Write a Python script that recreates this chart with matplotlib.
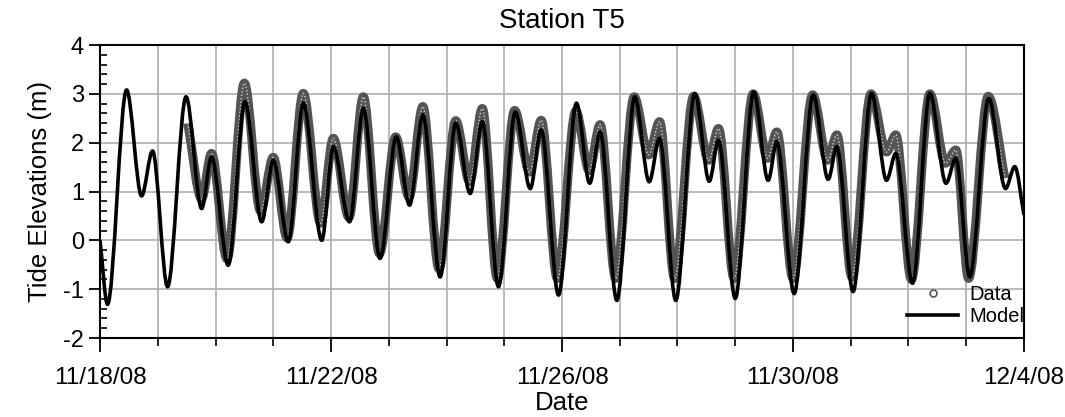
import matplotlib
matplotlib.use('Agg')
import matplotlib.pyplot as plt
from matplotlib.path import Path
from matplotlib.patches import PathPatch
from matplotlib.lines import Line2D

plt.rcParams['font.family'] = ['Liberation Sans', 'DejaVu Sans']
plt.rcParams['axes.unicode_minus'] = False

# days since 11/18/08 00:00, elevation (m) at turning points
model_t = [0.00, 0.13, 0.46, 0.72, 0.91, 1.17, 1.49, 1.76, 1.93, 2.22, 2.51, 2.80,
           3.00, 3.26, 3.52, 3.84, 4.04, 4.32, 4.56, 4.85, 5.13, 5.36, 5.59, 5.89,
           6.16, 6.41, 6.62, 6.90, 7.19, 7.45, 7.64, 7.94, 8.25, 8.48, 8.66, 8.95,
           9.26, 9.51, 9.69, 9.97, 10.30, 10.55, 10.71, 11.00, 11.32, 11.57, 11.72,
           12.02, 12.35, 12.61, 12.76, 13.04, 13.36, 13.62, 13.78, 14.07, 14.37,
           14.65, 14.82, 15.06, 15.39, 15.68, 15.84, 16.00]
model_h = [0.00, -1.31, 3.08, 0.91, 1.83, -0.95, 2.94, 0.65, 1.71, -0.51, 2.84, 0.38,
           1.64, -0.03, 2.81, 0.00, 1.92, 0.38, 2.70, -0.37, 2.12, 0.72, 2.57, -0.75,
           2.40, 0.96, 2.43, -0.95, 2.63, 1.06, 2.26, -1.12, 2.81, 1.17, 2.22, -1.23,
           2.94, 1.20, 2.09, -1.23, 3.01, 1.21, 2.05, -1.19, 3.04, 1.23, 2.02,
           -1.09, 2.98, 1.25, 1.92, -1.05, 3.01, 1.23, 1.78, -0.88, 3.01,
           1.17, 1.68, -0.75, 2.91, 1.06, 1.51, 0.52]

data_t = [1.52, 1.76, 1.93, 2.20, 2.50, 2.78, 3.00, 3.24, 3.52, 3.82, 4.04, 4.31,
          4.56, 4.84, 5.12, 5.35, 5.59, 5.87, 6.16, 6.40, 6.62, 6.88, 7.18, 7.44,
          7.64, 7.92, 8.24, 8.47, 8.66, 8.93, 9.25, 9.50, 9.69, 9.95, 10.28, 10.54,
          10.71, 10.98, 11.31, 11.56, 11.72, 12.00, 12.34, 12.60, 12.76, 13.02,
          13.35, 13.62, 13.78, 14.05, 14.37, 14.64, 14.82, 15.04, 15.38, 15.67]
data_h = [2.40, 0.85, 1.78, -0.38, 3.22, 0.60, 1.70, 0.05, 3.01, 0.35, 2.09, 0.47,
          2.94, -0.27, 2.12, 0.89, 2.74, -0.58, 2.45, 1.20, 2.70, -0.78, 2.66, 1.40,
          2.46, -0.78, 2.65, 1.43, 2.37, -0.78, 2.94, 1.75, 2.43, -0.78, 2.95, 1.64,
          2.29, -0.78, 3.00, 1.68, 2.22, -0.78, 2.98, 1.64, 2.16, -0.75,
          3.00, 1.81, 2.16, -0.80, 3.00, 1.58, 1.85, -0.78, 2.95, 1.27]

tick_days = [0, 4, 8, 12, 16]
tick_labels = ['11/18/08', '11/22/08', '11/26/08', '11/30/08', '12/4/08']


def tide_path(t, h):
    # smooth curve through turning points: flat tangent at each high/low,
    # straight-in tangent at the open ends of the record
    verts = [(t[0], h[0])]
    codes = [Path.MOVETO]
    n = len(t)
    for i in range(n - 1):
        dt = t[i + 1] - t[i]
        dh = h[i + 1] - h[i]
        s0 = dh / dt if i == 0 else 0.0
        s1 = dh / dt if i == n - 2 else 0.0
        verts += [(t[i] + dt / 3, h[i] + s0 * dt / 3),
                  (t[i + 1] - dt / 3, h[i + 1] - s1 * dt / 3),
                  (t[i + 1], h[i + 1])]
        codes += [Path.CURVE4] * 3
    return Path(verts, codes)


fig = plt.figure(figsize=(10.65, 4.17), dpi=100)
ax = fig.add_axes([0.0939, 0.1894, 0.8676, 0.7026])

# observed record: dense open circles -> thick grey band
ax.add_patch(PathPatch(tide_path(data_t, data_h), fill=False, ec='#545454',
                       lw=6.5, joinstyle='round', zorder=3))
ax.add_patch(PathPatch(tide_path(data_t, data_h), fill=False, ec='#d0d0d0',
                       lw=1.0, ls=(0, (1, 1.5)), zorder=3.5))
ax.add_patch(PathPatch(tide_path(model_t, model_h), fill=False, ec='black',
                       lw=2.6, joinstyle='round', zorder=4))

ax.set_xlim(0, 16)
ax.set_ylim(-2, 4)
ax.set_xticks(tick_days)
ax.set_xticks(range(17), minor=True)
ax.set_xticklabels(tick_labels, fontsize=17.5)
ax.set_yticks(range(-2, 5))
ax.set_yticks([v / 5 for v in range(-10, 21)], minor=True)
ax.tick_params(axis='y', labelsize=17)
ax.tick_params(axis='x', which='major', direction='out', length=10, width=1.3, pad=11)
ax.tick_params(axis='x', which='minor', direction='out', length=6, width=1.2)
ax.tick_params(axis='y', which='major', direction='out', length=8, width=1.3)
ax.tick_params(axis='y', which='minor', direction='in', length=5, width=1.2)

ax.grid(True, which='major', axis='y', color='#b4b4b4', lw=1.3)
ax.grid(True, which='both', axis='x', color='#b4b4b4', lw=1.3)
ax.set_axisbelow(True)
for s in ax.spines.values():
    s.set_linewidth(1.5)

ax.set_title('Station T5', fontsize=20, pad=12)
ax.set_ylabel('Tide Elevations (m)', fontsize=18.5, labelpad=8)
ax.set_xlabel('Date', fontsize=18.5, labelpad=1)

handles = [Line2D([], [], ls='none', marker='o', ms=5, mfc='white', mec='#555555', mew=1.2),
           Line2D([], [], color='black', lw=2.6)]
ax.legend(handles, ['Data', 'Model'], loc='lower right', frameon=False, fontsize=14.5,
          handlelength=2.5, handletextpad=0.6, labelspacing=0.15,
          bbox_to_anchor=(1.014, 0.0), borderaxespad=0.2)

fig.savefig('out.png', dpi=100)
